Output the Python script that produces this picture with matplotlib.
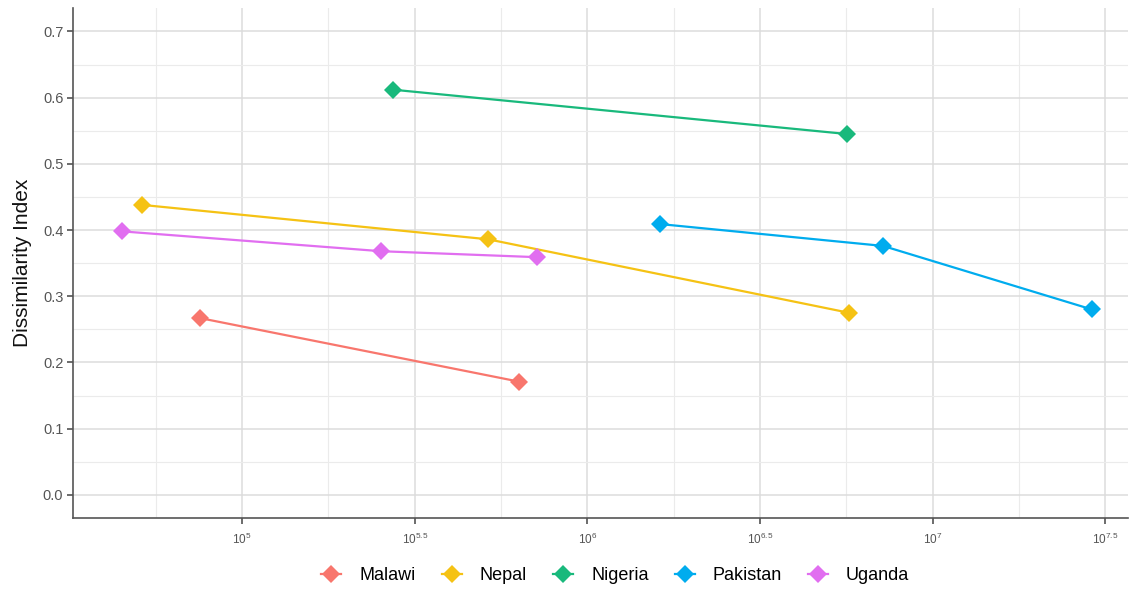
import matplotlib.pyplot as plt
from matplotlib.lines import Line2D
from matplotlib.ticker import FixedLocator, FixedFormatter

plt.rcParams['font.family'] = ['Liberation Sans', 'DejaVu Sans']
plt.rcParams['mathtext.fontset'] = 'custom'
plt.rcParams['mathtext.rm'] = 'Liberation Sans'
plt.rcParams['mathtext.it'] = 'Liberation Sans'

# values (x = population, log10 axis)
countries = ['Malawi', 'Nepal', 'Nigeria', 'Pakistan', 'Uganda']
colors = ['#F8766D', '#F5C214', '#19B97C', '#00ACEE', '#E16EF0']

malawi_x = [75500, 634000]
malawi_y = [0.267, 0.171]
nepal_x = [51300, 516000, 5730000]
nepal_y = [0.438, 0.386, 0.275]
nigeria_x = [273500, 5660000]
nigeria_y = [0.612, 0.545]
pakistan_x = [1626000, 7190000, 28970000]
pakistan_y = [0.409, 0.376, 0.280]
uganda_x = [44900, 252900, 716000]
uganda_y = [0.398, 0.368, 0.359]

series_x = [malawi_x, nepal_x, nigeria_x, pakistan_x, uganda_x]
series_y = [malawi_y, nepal_y, nigeria_y, pakistan_y, uganda_y]

x_exps = [5, 5.5, 6, 6.5, 7, 7.5]
x_labels = ['$10^{5}$', '$10^{5.5}$', '$10^{6}$', '$10^{6.5}$', '$10^{7}$', '$10^{7.5}$']
x_minor_exps = [4.75, 5.25, 5.75, 6.25, 6.75, 7.25]
y_ticks = [0.0, 0.1, 0.2, 0.3, 0.4, 0.5, 0.6, 0.7]
y_minor = [0.05, 0.15, 0.25, 0.35, 0.45, 0.55, 0.65]

fig = plt.figure(figsize=(11.29, 5.90), dpi=100)
ax = fig.add_axes([0.0647, 0.122, 0.934, 0.864])

for name, col, xs, ys in zip(countries, colors, series_x, series_y):
    ax.plot(xs, ys, color=col, lw=1.6, marker='D', markersize=9.5,
            markeredgewidth=0, zorder=3, label=name)

ax.set_xscale('log')
ax.set_xlim(10 ** 4.51, 10 ** 7.565)
ax.set_ylim(-0.035, 0.735)

ax.xaxis.set_major_locator(FixedLocator([10 ** e for e in x_exps]))
ax.xaxis.set_major_formatter(FixedFormatter(x_labels))
ax.xaxis.set_minor_locator(FixedLocator([10 ** e for e in x_minor_exps]))
ax.set_yticks(y_ticks)
ax.set_yticklabels(['%.1f' % v for v in y_ticks])
ax.set_yticks(y_minor, minor=True)

ax.grid(which='major', color='#DCDCDC', lw=1.1)
ax.grid(which='minor', color='#EBEBEB', lw=0.8)
ax.set_axisbelow(True)

for s in ['top', 'right']:
    ax.spines[s].set_visible(False)
for s in ['left', 'bottom']:
    ax.spines[s].set_color('#555555')
    ax.spines[s].set_linewidth(1.2)

ax.tick_params(axis='both', which='major', length=4, width=1.1, color='#444444')
ax.tick_params(axis='both', which='minor', length=0)
ax.tick_params(axis='y', labelsize=10.5, labelcolor='#555555', pad=3)
ax.tick_params(axis='x', labelsize=8.5, labelcolor='#555555', pad=6)

ax.set_ylabel('Dissimilarity Index', fontsize=15, color='#111111', labelpad=8)

handles = [Line2D([0], [0], color=c, lw=1.6, marker='D', markersize=9.5,
                  markeredgewidth=0) for c in colors]
fig.legend(handles, countries, loc='center', bbox_to_anchor=(0.545, 0.024),
           ncol=5, frameon=False, fontsize=13, handlelength=1.1,
           columnspacing=1.45, handletextpad=1.0)

fig.savefig('out.png', dpi=100)
